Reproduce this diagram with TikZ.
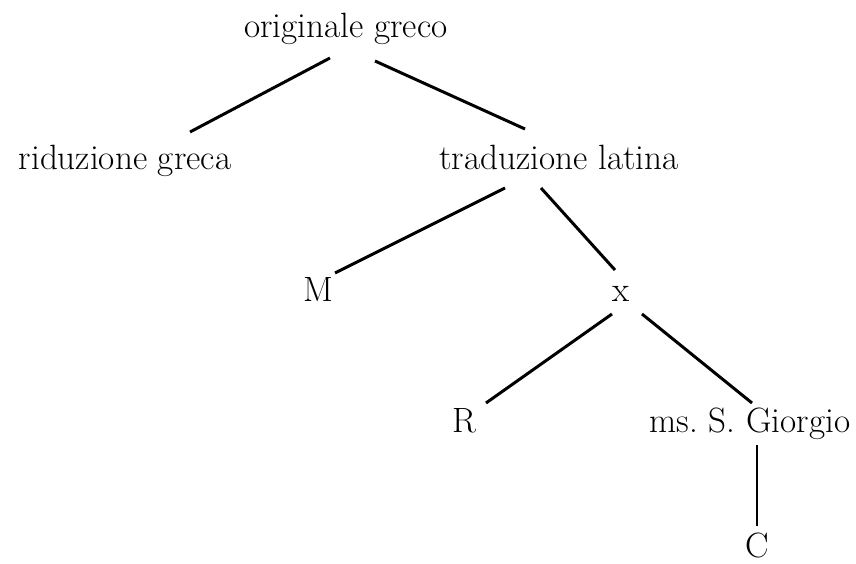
\documentclass[tikz,border=0pt]{standalone}
\usepackage{tikz}

\tikzset{
  ms/.style={font=\fontsize{20}{24}\selectfont, inner sep=0pt, anchor=base},
  stem/.style={line width=1.7pt}
}

\begin{document}
\begin{tikzpicture}[x=0.02cm, y=-0.02cm]
    \useasboundingbox (0,0) rectangle (856,564);
    % witnesses
    \node[ms] (og) at (346,38) {originale greco};
    \node[ms] (rg) at (125,170) {riduzione greca};
    \node[ms] (tl) at (559,170) {traduzione latina};
    \node[ms] (M) at (318,302) {M};
    \node[ms] (x) at (621,302) {x};
    \node[ms] (R) at (464,433) {R};
    \node[ms] (sg) at (750,433) {ms.\ S. Giorgio};
    \node[ms] (C) at (757,557) {C};
    % stemma
    \draw[stem] ([shift={(-16,20)}]og.base) -- ([shift={(65,-38)}]rg.base);
    \draw[stem] ([shift={(29,23)}]og.base) -- ([shift={(-34,-41)}]tl.base);
    \draw[stem] ([shift={(-54,18)}]tl.base) -- ([shift={(17,-29)}]M.base);
    \draw[stem] ([shift={(-18,18)}]tl.base) -- ([shift={(-6,-32)}]x.base);
    \draw[stem] ([shift={(-9,12)}]x.base) -- ([shift={(22,-30)}]R.base);
    \draw[stem] ([shift={(21,12)}]x.base) -- ([shift={(2,-30)}]sg.base);
    \draw[stem] ([shift={(7,12)}]sg.base) -- ([shift={(0,-31)}]C.base);
\end{tikzpicture}
\end{document}
